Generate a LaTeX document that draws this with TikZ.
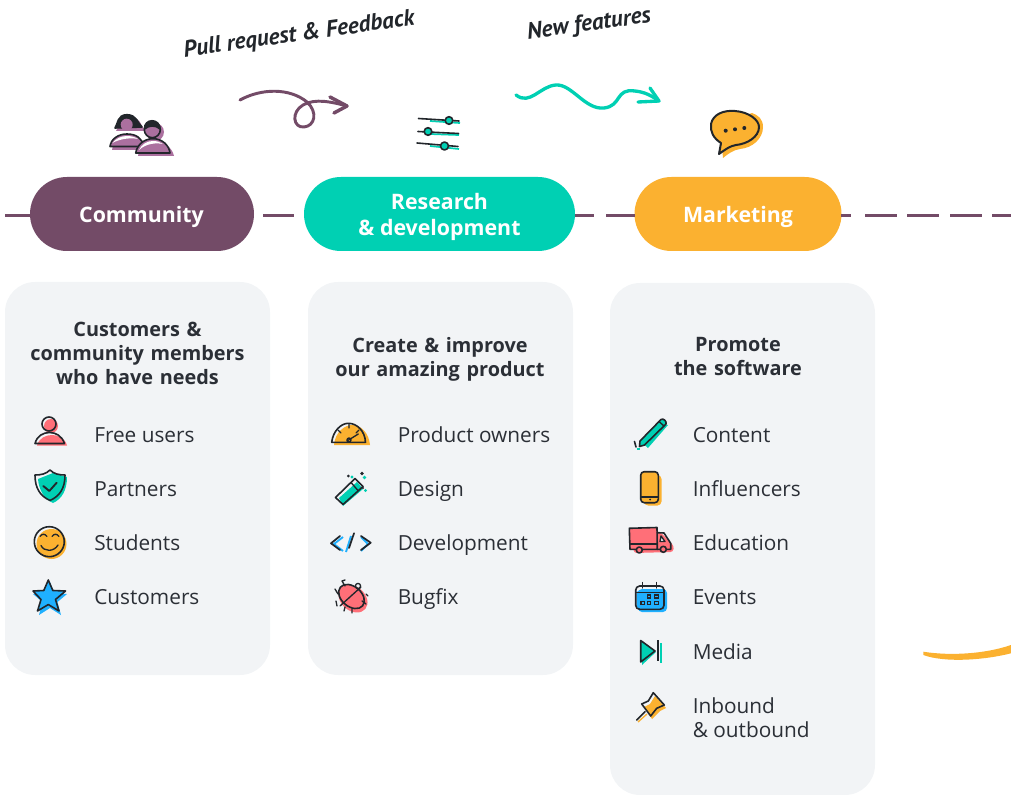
\documentclass[tikz,border=0pt]{standalone}
\usepackage{fontspec}
\setmainfont{Open Sans}
\newfontfamily\handfont{PT Sans}
\definecolor{ink}{HTML}{22262B}
\definecolor{plum}{HTML}{734B67}
\definecolor{teal}{HTML}{00D0B3}
\definecolor{amber}{HTML}{FBB130}
\definecolor{card}{HTML}{F2F4F6}
\definecolor{lilac}{HTML}{AB709F}
\definecolor{coral}{HTML}{FF6F78}
\definecolor{sky}{HTML}{1FB0FF}
\definecolor{txt}{HTML}{2B2F36}
\tikzset{
 pill/.style={rounded corners=27.7pt,minimum height=55.5pt,inner sep=0pt,text=white,align=center,font=\fontsize{16}{19.5}\selectfont\bfseries},
 cardbox/.style={fill=card,rounded corners=22.5pt,draw=none},
 headtext/.style={text=txt,align=center,font=\fontsize{14.9}{18}\selectfont\bfseries,inner sep=0pt},
 item/.style={text=txt,anchor=base west,align=left,font=\fontsize{15.6}{18}\selectfont,inner sep=0pt},
 hand/.style={text=ink,inner sep=0pt,font=\handfont\bfseries\itshape\fontsize{17.5}{22}\selectfont,rotate=8},
 dashline/.style={draw=plum,line width=2.25pt},
 ic/.style={draw=ink,line width=1.2pt,line join=round,line cap=round},
}
\begin{document}
\begin{tikzpicture}[x=0.75pt,y=-0.75pt]
\useasboundingbox (0,0) rectangle (1011,795);
% pills
\node[pill,fill=plum,minimum width=168pt] (comm) at (142,214) {};
\node[text=white,inner sep=0pt,anchor=base,font=\fontsize{16}{19.5}\selectfont\bfseries] (commt) at (141.5,223) {Community};
\node[pill,fill=teal,minimum width=203.25pt] (rd) at (439.5,214) {};
\node[text=white,inner sep=0pt,anchor=base,font=\fontsize{16}{19.5}\selectfont\bfseries] (rdt1) at (439.5,210) {Research};
\node[text=white,inner sep=0pt,anchor=base,font=\fontsize{16}{19.5}\selectfont\bfseries] (rdt2) at (439.5,236) {\& development};
\node[pill,fill=amber,minimum width=155.25pt] (mkt) at (738,214) {};
\node[text=white,inner sep=0pt,anchor=base,font=\fontsize{16}{19.5}\selectfont\bfseries] (mktt) at (738,223) {Marketing};
\coordinate (lstart) at (5,216);
\coordinate (lend) at (1011,216);
\draw[dashline] (lstart) -- (30,216);
\draw[dashline] (263,216) -- (294,216);
\draw[dashline] (575,216) -- (594,216);
\draw[dashline] (606,216) -- (635,216);
\draw[dashline] (841,216) -- (851,216);
\draw[dashline] (865,216) -- (897,216);
\draw[dashline] (907,216) -- (939,216);
\draw[dashline] (950,216) -- (982,216);
\draw[dashline] (992,216) -- (lend);
% cards
\fill[cardbox] (5,282) rectangle (270,675);
\fill[cardbox] (308,282) rectangle (573,675);
\fill[cardbox] (610,283) rectangle (875,795);
% hand labels
\node[hand] (pr) at (299,35) {Pull request \& Feedback};
\node[hand] (nf) at (589,25) {New features};
% arrows
\coordinate (a1s) at (240,100);
\coordinate (a1e) at (347,106);
\draw[plum,line width=2.2pt,line cap=round] (a1s) .. controls (262,88) and (290,88) .. (307,102)
  .. controls (318,112) and (315,126) .. (304,127) .. controls (293,128) and (291,112) .. (303,105)
  .. controls (315,98) and (332,102) .. (a1e);
\draw[plum,line width=2.6pt,line cap=round,line join=round] (330,97) -- (a1e) -- (334,113);
\coordinate (a2s) at (516,95);
\coordinate (a2e) at (659,101);
\draw[teal,line width=2.5pt,line cap=round] (a2s) .. controls (530,106) and (540,86) .. (556,85)
  .. controls (572,84) and (585,110) .. (604,108) .. controls (622,106) and (615,88) .. (635,91)
  .. controls (645,92) and (652,96) .. (a2e);
\draw[teal,line width=2.5pt,line cap=round,line join=round] (650,88) -- (a2e) -- (638,102);
% community icon
\fill[lilac] (116,131) .. controls (120,124) and (120,117) .. (130,117) .. controls (140,117) and (141,125) .. (145,131) -- cycle;
\fill[lilac] (112,150) .. controls (113,141) and (120,138) .. (128,138) .. controls (137,138) and (145,141) .. (146,150) -- cycle;
\fill[lilac] (138,156) .. controls (139,147) and (146,142) .. (155,142) .. controls (164,142) and (172,147) .. (174,156) -- cycle;
\fill[lilac] (155,132) circle (9);
\path[ic,fill=ink] (115,128) .. controls (118,124) and (117,114.7) .. (127,114.7) .. controls (137,114.7) and (138,124) .. (142,127) -- cycle;
\fill[lilac] (126.7,124.7) circle (6);
\path[ic,fill=lilac] (110,146.5) .. controls (111,139) and (118,134) .. (127,134) .. controls (136,134) and (142,138) .. (144,146.5) -- cycle;
\fill[white] (112.5,143) .. controls (116,138.5) and (121,136) .. (127,136) .. controls (131,136) and (135,137) .. (138,139) .. controls (132,137.5) and (120,138.5) .. (112.5,143) -- cycle;
\path[ic,fill=lilac] (152.3,129.7) circle (8);
\path[ic,fill=ink] (144.5,129) .. controls (144,118) and (160,118) .. (160,129) .. controls (156,125) and (149,125) .. (144.5,129) -- cycle;
\path[ic,fill=lilac] (135.7,153) .. controls (137,145) and (144,138.7) .. (153,138.7) .. controls (162,138.7) and (169,145) .. (170,153) -- cycle;
\fill[white] (139,150) .. controls (142,144) and (147,141) .. (153,141) .. controls (157,141) and (160,142) .. (163,144) .. controls (156,142.5) and (146,143.5) .. (139,150) -- cycle;
% sliders
\draw[teal,line width=1.3pt] (430,121) -- (460,123);
\draw[teal,line width=1.3pt] (430,134) -- (459,135);
\draw[teal,line width=1.3pt] (430,146) -- (459,149);
\draw[ic] (418.5,118.5) -- (459,121);
\draw[ic] (418,131.5) -- (458.5,133.5);
\draw[ic] (417,143) -- (458,146.5);
\path[ic,fill=teal] (449,120.5) circle (3.8);
\path[ic,fill=teal] (428,131.5) circle (3.8);
\path[ic,fill=teal] (444.5,146) circle (4);
% bubble
\fill[amber] (723,158) .. controls (728,154) and (733,150) .. (740,149) .. controls (752,148) and (763,139) .. (763,127) .. controls (763,119) and (758,115) .. (752,113) -- (720,125) -- cycle;
\path[ic,fill=amber,line width=1.5pt] (719,154) -- (721,143) .. controls (713,138) and (710,131) .. (711,124) .. controls (713,114) and (724,110) .. (735,111) .. controls (749,112) and (759,120) .. (759,127) .. controls (759,137) and (747,144) .. (736,145) .. controls (730,146) and (726,149) .. (719,154) -- cycle;
\fill[ink] (725.7,130.7) circle (2) (735,129.3) circle (2) (744.3,128) circle (2);
% list texts col 1
\node[headtext,text width=187pt] (h1) at (137.5,353) {Customers \&\\community members\\who have needs};
\node[item] (t11) at (94,442) {Free users};
\node[item] (t12) at (94,496) {Partners};
\node[item] (t13) at (94,550) {Students};
\node[item] (t14) at (94,604) {Customers};
% col 2
\node[headtext,text width=187pt] (h2) at (440,359) {Create \& improve\\our amazing product};
\node[item] (t21) at (397.5,442) {Product owners};
\node[item] (t22) at (397.5,496) {Design};
\node[item] (t23) at (397.5,550) {Development};
\node[item] (t24) at (397.5,604) {Bugfix};
% col 3
\node[headtext,text width=187pt] (h3) at (738,357) {Promote\\the software};
\node[item] (t31) at (692.5,442) {Content};
\node[item] (t32) at (692.5,496) {Influencers};
\node[item] (t33) at (692.5,550) {Education};
\node[item] (t34) at (692.5,604) {Events};
\node[item] (t35) at (692.5,659) {Media};
\node[item] (t36) at (692.5,713) {Inbound};
\node[item] (t37) at (692.5,737) {\& outbound};
% person
\fill[coral] (51,426) circle (7);
\fill[coral] (37,445.5) .. controls (39,438) and (46,435) .. (52,435) .. controls (58,435) and (65,438) .. (67,445.5) -- cycle;
\draw[ic] (49,424) circle (7);
\path[ic] (35,443.5) .. controls (37,436) and (43,432.5) .. (49.5,432.5) .. controls (56,432.5) and (62,436) .. (64.5,443.5) -- cycle;
% shield
\fill[teal] (38,479) -- (53,473) -- (67,477) .. controls (67,490) and (62,499) .. (53,503) .. controls (44,499) and (39,490) .. (38,479) -- cycle;
\path[ic] (35,475) .. controls (41,475) and (46,474) .. (50,470) .. controls (54,474) and (59,475) .. (65,475) .. controls (65,488) and (60,496) .. (50,500.5) .. controls (40,496) and (35,488) .. (35,475) -- cycle;
\draw[ic,line width=1.4pt] (43.3,486) -- (49.3,491) -- (56.7,482.7);
% smiley
\fill[amber] (51.5,544) circle (15);
\draw[ic] (49.3,541.7) circle (15);
\draw[ic,line width=1pt] (40,536.5) .. controls (42,533.5) and (45,533.5) .. (47,536.5);
\draw[ic,line width=1pt] (52,536.5) .. controls (54,533.5) and (57,533.5) .. (59,536.5);
\draw[ic,line width=1pt] (41,545.5) .. controls (44,552) and (54,552) .. (58,545);
% star
\fill[sky] (50,582) -- (54.5,593) -- (67,594) -- (57.5,602) -- (61,615) -- (50,608) -- (39,615) -- (42.5,602) -- (33,594) -- (45.5,593) -- cycle;
\path[ic,fill=sky] (48.3,580) -- (52.8,590.5) -- (65.5,591) -- (55.5,599.5) -- (59,611) -- (48.3,604.5) -- (37.5,611) -- (41,599.5) -- (33,591) -- (43.8,590.5) -- cycle;
% gauge
\fill[amber] (334,445) .. controls (335,432) and (345,425) .. (352,425) .. controls (362,425) and (369,434) .. (370,445) -- cycle;
\draw[ic] (331.7,442.3) .. controls (333,431) and (341,423.3) .. (348.3,423.3) .. controls (357,423.3) and (365,431) .. (365.5,442.3) -- cycle;
\draw[ic,line width=1pt] (349,424) -- (349,428) (338,430) -- (341,433) (359,430) -- (356,433);
\draw[ic,line width=1pt] (347,441) -- (358.3,434);
\path[ic,line width=1pt] (349,440) circle (2);
% wand
\fill[teal] (339,498) -- (357,482) -- (363,489) -- (343,506) -- cycle;
\path[ic] (335.5,497.5) -- (355,478.5) -- (363,486.5) -- (343,504.5) -- cycle;
\draw[ic,line width=1pt] (351,482.5) -- (358,490.5);
\fill[teal] (352,477) circle (1.6) (364.5,477.5) circle (1.8) (365.5,490.5) circle (1.6);
\fill[ink] (348.3,476) circle (1.5) (362,473.5) circle (1.8) (363,488) circle (1.2);
% code
\draw[sky,line width=1.4pt] (343,537) -- (334,544) -- (343,551);
\draw[sky,line width=1.4pt] (351,536) -- (346,552);
\draw[sky,line width=1.4pt] (361,537) -- (368,544) -- (361,551);
\draw[ic,line width=1.3pt] (340,536) -- (331,543.3) -- (340,550);
\draw[ic,line width=1.3pt] (354,533.3) -- (349,548);
\draw[ic,line width=1.3pt] (361,536) -- (370.7,542.7) -- (361,550);
% bug
\fill[coral,rotate around={-40:(353,598)}] (353.5,598.5) ellipse (16 and 12);
\path[ic,fill=coral,rotate around={-40:(351.5,596.5)}] (351.5,596.5) ellipse (14.5 and 10);
\draw[ic,line width=1pt] (340,606) -- (361,587);
\path[ic,line width=1pt] (358,586) circle (2.6);
\draw[ic,line width=1pt] (345,586) -- (342,581) -- (345,580)
 (338,594) -- (335,589)
 (336,601) -- (337,606)
 (345,607) -- (344,611) (352,609) -- (352,613) (362,601) -- (366,604) (366,594) -- (368,596);
% pencil
\fill[teal] (644,444.5) -- (662,424) -- (668,425) -- (648,448) -- cycle;
\path[ic,fill=teal] (640,441) -- (661,419.5) .. controls (663,418) and (667,421) .. (666,424) -- (644.5,445) -- (639.5,446.5) -- cycle;
\draw[ic,line width=1pt] (659,421.5) -- (664,426);
\draw[ic,line width=1.2pt] (634.5,441.5) -- (636,447);
\draw[teal,line width=1.2pt] (636.5,449) -- (640,449);
% phone
\fill[amber,rounded corners=3pt] (644,475) rectangle (661.5,505.5);
\path[ic,fill=amber,rounded corners=2.6pt] (640.7,471.7) rectangle (658.3,502.7);
\draw[ic,line width=1pt] (641,497) -- (658,497);
\fill[ink] (650,499.5) circle (1);
% truck
\fill[coral,rounded corners=2pt] (631,531) -- (660,532) -- (674,546) -- (673,552) -- (634,553) -- cycle;
\path[ic,fill=coral] (629.3,528.3) -- (657,527.5) -- (657.3,549.3) -- (630,549.3) -- cycle;
\path[ic] (657.3,532.7) -- (664,533) -- (670.7,543.3) -- (670.7,549.3) -- (657.3,549.3);
\path[ic,line width=1pt,fill=card] (661,536) -- (665,541.5) -- (660,541.5) -- cycle;
\draw[ic,line width=1pt] (630,544) -- (657,544);
\path[ic,fill=coral] (639.3,550) circle (3);
\path[ic,fill=coral] (663.3,549.3) circle (3);
% calendar
\fill[sky,rounded corners=3pt] (638,589) rectangle (667,612);
\fill[sky,rounded corners=3pt] (636.5,590) rectangle (664,609);
\path[ic,rounded corners=3pt] (635.7,586) rectangle (664,609.3);
\draw[ic,line width=1pt] (636,592.5) -- (664,592.5);
\draw[ic,line width=1pt] (642.7,582.5) -- (642.7,588) (656.7,582.5) -- (656.7,588);
\foreach \px/\py in {649/596.5,656.5/596.5,642.7/603.3,649/603.3,656.5/603.3}{
 \draw[ink,line width=.9pt] (\px-1.8,\py-1.5) rectangle (\px+1.8,\py+1.5);
}
% media
\fill[teal] (642,645) -- (656,652) -- (642,665) -- cycle;
\path[ic,fill=teal] (640.7,640.5) -- (655,651) -- (640.7,662) -- cycle;
\draw[ink,line width=1.2pt] (657.7,640) -- (657.7,661);
\draw[teal,line width=1.2pt] (660.7,643) -- (660.7,663);
% pin
\fill[amber] (655,696) -- (666,708) -- (660,711) -- (652,719) -- (644,707) -- (650,704) -- cycle;
\path[ic] (653.3,692.7) -- (664.3,705) -- (656.7,708.3) -- (650.7,716) -- (641.7,704) -- (648.3,701) -- cycle;
\draw[ic] (645,711.7) -- (636.7,720);
\draw[amber,line width=1pt] (647,714) -- (638,722);
% brush stroke
\fill[amber] (923.3,651.7) .. controls (950,656) and (985,654) .. (1011,645) -- (1011,653.3) .. controls (985,660) and (945,663) .. (923.3,655) -- cycle;
\end{tikzpicture}
\end{document}
